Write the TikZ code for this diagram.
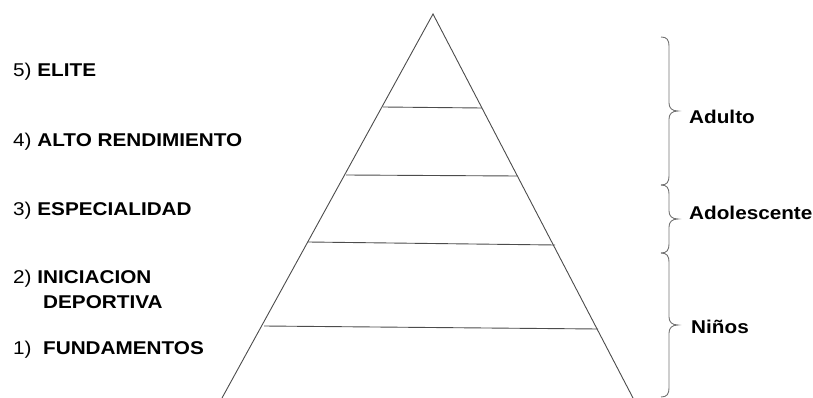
\documentclass[tikz,border=0pt]{standalone}
\usepackage{fontspec}
\setmainfont{Liberation Sans}
\usepackage{graphicx}
\begin{document}
\begin{tikzpicture}[x=1pt,y=-1pt,
  lbl/.style={anchor=west,inner sep=0pt,font=\fontsize{18.5}{21}\selectfont},
  pyr/.style={draw=black!70,line width=0.9pt},
  brc/.style={draw=black!55,line width=0.9pt}]
\useasboundingbox (0,0) rectangle (813,398);
% pyramid
\coordinate (apex) at (433,14);
\coordinate (bl) at (222,398);
\coordinate (br) at (633,398);
\draw[pyr] (bl) -- (apex) -- (br);
\coordinate (l1a) at (383,107); \coordinate (l1b) at (482,108);
\coordinate (l2a) at (346,175); \coordinate (l2b) at (517,176);
\coordinate (l3a) at (308,242); \coordinate (l3b) at (555,245);
\coordinate (l4a) at (264,326); \coordinate (l4b) at (598,329);
\draw[pyr] (l1a) -- (l1b);
\draw[pyr] (l2a) -- (l2b);
\draw[pyr] (l3a) -- (l3b);
\draw[pyr] (l4a) -- (l4b);
% left labels
\node[lbl] (n5) at (13,72) {\scalebox{1.12}[1]{5) \textbf{ELITE}}};
\node[lbl] (n4) at (13,142) {\scalebox{1.12}[1]{4) \textbf{ALTO RENDIMIENTO}}};
\node[lbl] (n3) at (13,211) {\scalebox{1.12}[1]{3) \textbf{ESPECIALIDAD}}};
\node[lbl] (n2) at (13,279) {\scalebox{1.12}[1]{2) \textbf{INICIACION}}};
\node[lbl] (n2b) at (43,302) {\scalebox{1.12}[1]{\textbf{DEPORTIVA}}};
\node[lbl] (n1) at (13,350) {\scalebox{1.12}[1]{1)\ \ \textbf{FUNDAMENTOS}}};
% braces
\def\xb{669}
\draw[brc] (\xb-8,37) .. controls (\xb-2,37) and (\xb,40) .. (\xb,46)
  -- (\xb,103) .. controls (\xb,108) and (\xb+3,111) .. (\xb+9,111)
  .. controls (\xb+3,111) and (\xb,114) .. (\xb,119)
  -- (\xb,176) .. controls (\xb,182) and (\xb-2,185) .. (\xb-8,185);
\draw[brc] (\xb-8,185) .. controls (\xb-2,185) and (\xb,188) .. (\xb,194)
  -- (\xb,211) .. controls (\xb,216) and (\xb+3,219) .. (\xb+9,219)
  .. controls (\xb+3,219) and (\xb,222) .. (\xb,227)
  -- (\xb,244) .. controls (\xb,250) and (\xb-2,253) .. (\xb-8,253);
\draw[brc] (\xb-8,253) .. controls (\xb-2,253) and (\xb,256) .. (\xb,262)
  -- (\xb,317) .. controls (\xb,322) and (\xb+3,325) .. (\xb+9,325)
  .. controls (\xb+3,325) and (\xb,328) .. (\xb,333)
  -- (\xb,388) .. controls (\xb,394) and (\xb-2,397) .. (\xb-8,397);
\node[lbl] (ad) at (689,117) {\scalebox{1.12}[1]{\textbf{Adulto}}};
\node[lbl] (ado) at (689,213) {\scalebox{1.12}[1]{\textbf{Adolescente}}};
\node[lbl] (ni) at (691,327) {\scalebox{1.12}[1]{\textbf{Niños}}};
\end{tikzpicture}
\end{document}
